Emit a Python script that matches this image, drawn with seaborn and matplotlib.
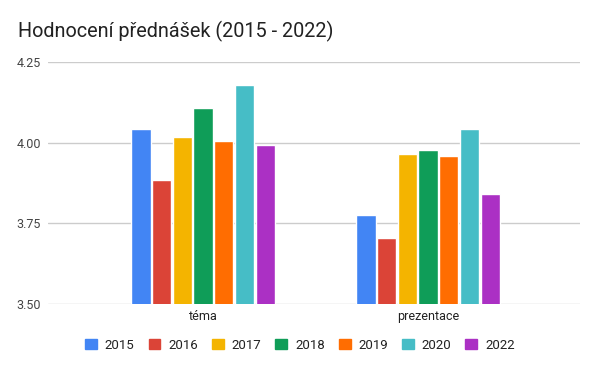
import pandas as pd
import numpy as np
import matplotlib.pyplot as plt
import seaborn as sns

# data
categories = ["téma", "prezentace"]
years = ["2015", "2016", "2017", "2018", "2019", "2020", "2022"]
tema = [4.041, 3.883, 4.016, 4.106, 4.004, 4.178, 3.992]
prezentace = [3.776, 3.705, 3.964, 3.976, 3.960, 4.041, 3.840]
colors = ["#4285F4", "#DB4437", "#F4B400", "#0F9D58", "#FF6D01", "#46BDC6", "#AB30C4"]

df = pd.DataFrame({
    "kategorie": [categories[0]] * len(years) + [categories[1]] * len(years),
    "rok": years + years,
    "hodnota": tema + prezentace,
})

sns.set_style("white")
plt.rcParams["font.family"] = ["Roboto", "DejaVu Sans"]

fig = plt.figure(figsize=(6, 3.71), dpi=100)
ax = fig.add_axes([0.08, 0.1806, 0.887, 0.6524])

sns.barplot(data=df, x="kategorie", y="hodnota", hue="rok", order=categories,
            hue_order=years, palette=colors, width=0.644, gap=0.07,
            saturation=1, ax=ax, legend=False)

ax.set_ylim(3.5, 4.25)
ax.set_xlim(-0.689, 1.676)
ax.set_yticks([3.5, 3.75, 4.0, 4.25])
ax.set_yticklabels(["3.50", "3.75", "4.00", "4.25"])
ax.yaxis.grid(True, color="#cccccc", linewidth=1)
ax.set_axisbelow(True)
for s in ax.spines.values():
    s.set_visible(False)
ax.tick_params(axis="y", length=0, pad=5, labelsize=9, labelcolor="#444444")
ax.tick_params(axis="x", length=0, pad=4, labelsize=9, labelcolor="#222222")
ax.set_xlabel("")
ax.set_ylabel("")

fig.text(0.03, 0.915, "Hodnocení přednášek (2015 - 2022)", fontsize=14.3,
         color="#222222", va="center")

handles = [plt.Rectangle((0, 0), 1, 1, color=c) for c in colors]
fig.legend(handles, years, loc="center", bbox_to_anchor=(0.5, 0.07), ncol=7,
           frameon=False, fontsize=9.5, handlelength=0.9, handleheight=0.9,
           columnspacing=1.05, handletextpad=0.6, labelcolor="#222222")

fig.savefig("out.png", dpi=100)
